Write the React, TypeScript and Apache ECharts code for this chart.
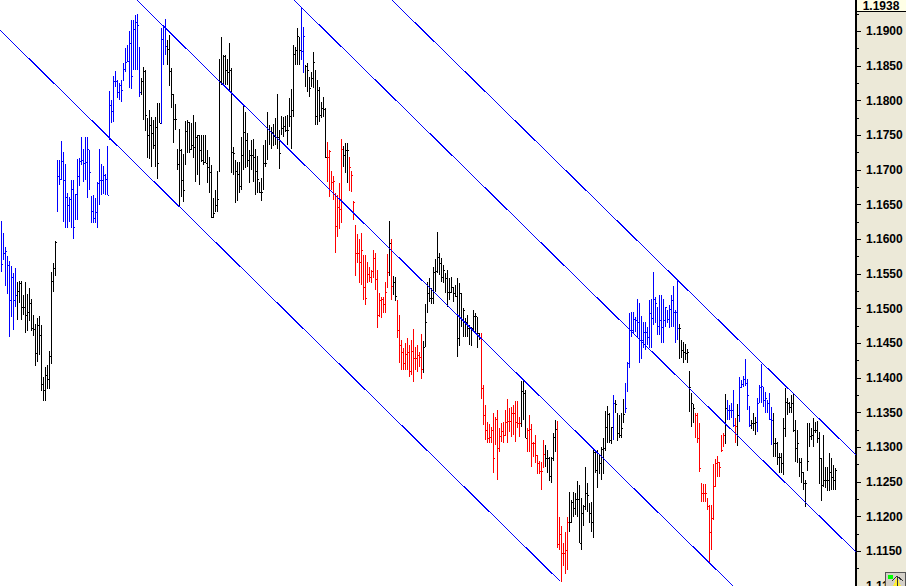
import React, { useEffect, useRef } from "react";
import * as echarts from "echarts";

// Prices in 1/10000 units, one entry per trading bar
const highs = [
11626,11609,11589,11576,11569,11561,11551,11558,11538,11540,
11540,11519,11538,11521,11530,11514,11491,11478,11486,11489,
11476,11401,11416,11419,11439,11553,11566,11597,11714,11714,
11742,11726,11708,11667,11661,11685,11685,11665,11716,11717,
11747,11730,11747,11747,11729,11662,11664,11659,11682,11731,
11708,11706,11694,11734,11814,11801,11835,11843,11830,11825,
11830,11854,11876,11881,11900,11916,11916,11923,11925,11877,
11832,11848,11844,11775,11786,11776,11772,11776,11796,11796,
11905,11909,11918,11887,11895,11847,11809,11795,11731,11759,
11731,11723,11770,11772,11769,11768,11779,11769,11750,11750,
11750,11750,11750,11729,11719,11707,11659,11671,11698,11860,
11892,11866,11866,11860,11883,11847,11733,11714,11711,11711,
11747,11794,11783,11753,11729,11743,11744,11730,11720,11682,
11688,11736,11743,11783,11765,11762,11766,11775,11809,11757,
11778,11776,11778,11779,11804,11817,11881,11877,11905,11892,
11935,11906,11851,11854,11834,11841,11870,11844,11830,11819,
11798,11806,11789,11740,11729,11698,11691,11667,11664,11681,
11744,11734,11739,11739,11719,11698,11656,11620,11607,11600,
11609,11577,11577,11567,11560,11556,11584,11580,11556,11522,
11517,11517,11538,11579,11626,11600,11547,11545,11512,11491,
11455,11443,11450,11457,11447,11455,11470,11445,11447,11437,
11463,11453,11507,11538,11544,11530,11560,11571,11610,11580,
11573,11563,11551,11556,11544,11545,11531,11534,11544,11537,
11522,11501,11486,11491,11476,11473,11498,11494,11488,11465,
11465,11390,11361,11336,11333,11329,11349,11344,11354,11328,
11335,11336,11354,11369,11357,11358,11361,11367,11367,11344,
11395,11395,11382,11328,11346,11333,11307,11318,11289,11281,
11279,11310,11303,11296,11286,11286,11320,11339,11338,11199,
11186,11162,11178,11199,11235,11224,11235,11234,11251,11245,
11227,11217,11271,11248,11220,11221,11299,11293,11296,11289,
11300,11313,11352,11359,11349,11329,11375,11368,11349,11346,
11349,11369,11393,11423,11494,11495,11495,11488,11514,11508,
11489,11481,11481,11473,11512,11514,11553,11517,11502,11519,
11519,11514,11502,11498,11505,11519,11532,11498,11541,11478,
11455,11452,11449,11442,11410,11378,11362,11349,11349,11335,
11248,11247,11247,11227,11217,11217,11276,11283,11287,11279,
11318,11320,11377,11368,11361,11364,11383,11342,11362,11401,
11397,11403,11427,11398,11359,11339,11349,11344,11371,11390,
11420,11387,11380,11368,11378,11358,11349,11313,11307,11292,
11292,11342,11385,11371,11365,11375,11378,11339,11325,11284,
11284,11264,11253,11335,11335,11328,11342,11336,11338,11322,
11284,11318,11271,11271,11292,11284,11274,11270,
];

const lows = [
11553,11570,11532,11521,11459,11488,11469,11502,11483,11508,
11483,11491,11465,11468,11482,11468,11460,11417,11423,11433,
11381,11367,11367,11384,11384,11420,11524,11547,11639,11678,
11685,11625,11616,11616,11625,11616,11600,11628,11628,11677,
11707,11682,11685,11659,11671,11623,11623,11623,11616,11649,
11664,11665,11664,11664,11743,11768,11769,11819,11804,11801,
11798,11828,11841,11856,11818,11817,11844,11844,11844,11805,
11808,11772,11756,11717,11716,11704,11731,11704,11687,11768,
11766,11851,11866,11851,11821,11789,11739,11757,11700,11648,
11661,11654,11707,11724,11724,11729,11717,11682,11693,11678,
11711,11707,11710,11681,11667,11631,11631,11639,11639,11697,
11822,11822,11822,11822,11815,11695,11693,11652,11656,11667,
11671,11700,11703,11704,11681,11700,11682,11664,11667,11667,
11655,11671,11704,11714,11736,11731,11734,11736,11731,11701,
11750,11747,11755,11736,11762,11731,11776,11851,11851,11851,
11858,11840,11819,11812,11805,11819,11818,11765,11765,11769,
11775,11776,11717,11682,11661,11671,11657,11580,11603,11615,
11623,11704,11695,11681,11669,11668,11628,11547,11566,11537,
11534,11512,11505,11537,11538,11537,11544,11527,11472,11488,
11486,11494,11494,11530,11547,11512,11519,11511,11457,11421,
11411,11411,11411,11411,11401,11404,11394,11411,11408,11416,
11398,11407,11445,11494,11509,11507,11507,11524,11551,11548,
11538,11537,11522,11502,11512,11522,11509,11517,11430,11446,
11473,11459,11459,11459,11447,11446,11469,11465,11443,11455,
11369,11332,11310,11306,11306,11306,11263,11303,11253,11293,
11307,11306,11316,11306,11322,11315,11318,11307,11328,11315,
11329,11339,11313,11293,11293,11271,11286,11277,11261,11261,
11238,11270,11271,11263,11251,11248,11280,11293,11155,11152,
11106,11129,11117,11123,11178,11191,11199,11202,11199,11162,
11152,11186,11209,11207,11191,11178,11169,11263,11241,11261,
11253,11261,11294,11306,11306,11305,11310,11349,11309,11313,
11313,11335,11349,11380,11414,11459,11465,11466,11457,11421,
11427,11443,11440,11447,11443,11443,11476,11479,11462,11462,
11450,11450,11473,11479,11472,11473,11473,11450,11455,11427,
11429,11421,11426,11421,11351,11329,11335,11313,11306,11264,
11221,11221,11221,11209,11133,11152,11195,11243,11257,11257,
11293,11300,11305,11339,11339,11342,11329,11306,11302,11336,
11385,11387,11388,11354,11329,11326,11323,11318,11322,11364,
11364,11358,11349,11349,11339,11303,11286,11286,11274,11263,
11263,11260,11315,11346,11349,11349,11322,11279,11277,11257,
11248,11238,11214,11266,11300,11310,11300,11320,11306,11247,
11222,11243,11241,11237,11237,11238,11238,11238,
];

const closes = [
11564,11580,11583,11563,11512,11545,11512,11519,11525,11537,
11502,11502,11491,11495,11508,11472,11470,11436,11476,11462,
11391,11382,11404,11398,11432,11540,11558,11596,11691,11687,
11713,11685,11661,11649,11658,11672,11618,11665,11691,11713,
11714,11710,11711,11731,11697,11641,11631,11639,11681,11685,
11685,11693,11687,11664,11794,11785,11828,11828,11812,11822,
11815,11845,11856,11857,11883,11835,11903,11913,11909,11812,
11828,11843,11779,11750,11765,11753,11736,11762,11710,11768,
11889,11906,11879,11874,11843,11809,11773,11773,11708,11729,
11685,11671,11756,11769,11730,11736,11733,11747,11750,11729,
11714,11711,11710,11704,11697,11632,11638,11649,11658,11828,
11825,11864,11844,11841,11844,11726,11724,11698,11694,11677,
11721,11755,11743,11714,11721,11721,11719,11698,11687,11668,
11668,11710,11710,11759,11756,11755,11749,11747,11747,11724,
11760,11763,11757,11757,11778,11786,11867,11873,11893,11873,
11871,11893,11850,11844,11818,11832,11856,11778,11815,11779,
11789,11788,11719,11719,11727,11682,11684,11619,11646,11644,
11730,11721,11729,11729,11704,11693,11654,11581,11580,11567,
11584,11531,11515,11550,11545,11554,11573,11543,11491,11512,
11514,11507,11524,11553,11595,11532,11538,11518,11469,11447,
11437,11421,11434,11437,11410,11439,11429,11429,11433,11430,
11413,11445,11481,11522,11515,11515,11553,11554,11574,11566,
11545,11556,11544,11524,11524,11531,11522,11518,11457,11522,
11483,11498,11481,11472,11472,11472,11489,11489,11465,11459,
11385,11346,11325,11313,11315,11325,11284,11341,11299,11316,
11323,11318,11336,11338,11338,11349,11349,11336,11335,11335,
11381,11378,11313,11325,11326,11306,11306,11289,11277,11266,
11266,11290,11284,11284,11258,11284,11315,11326,11160,11175,
11147,11147,11152,11192,11192,11221,11212,11225,11225,11162,
11205,11215,11234,11231,11205,11192,11293,11267,11292,11277,
11297,11299,11329,11348,11310,11329,11364,11362,11320,11318,
11328,11348,11357,11421,11469,11469,11485,11483,11481,11455,
11455,11466,11466,11459,11494,11486,11514,11508,11475,11483,
11473,11483,11502,11485,11499,11512,11495,11495,11472,11472,
11440,11437,11436,11437,11387,11364,11357,11346,11313,11270,
11234,11234,11234,11215,11178,11198,11244,11277,11279,11271,
11296,11318,11357,11354,11354,11354,11332,11331,11346,11387,
11391,11398,11393,11375,11332,11335,11335,11336,11364,11387,
11388,11368,11371,11364,11341,11339,11306,11306,11286,11286,
11277,11328,11365,11364,11358,11364,11325,11299,11306,11279,
11264,11248,11248,11280,11316,11318,11325,11325,11313,11284,
11245,11253,11253,11253,11264,11257,11253,11267,
];

// Trend state for consecutive runs of bars: [state, run length]
const trendRuns: [string, number][] = [
  ["up", 8], ["flat", 20], ["up", 42], ["flat", 10], ["up", 3], ["flat", 67],
  ["up", 2], ["flat", 11], ["down", 8], ["flat", 3], ["down", 20], ["flat", 1],
  ["down", 1], ["flat", 2], ["down", 13], ["flat", 29], ["down", 20], ["flat", 3],
  ["down", 9], ["flat", 6], ["down", 6], ["flat", 22], ["up", 1], ["flat", 5],
  ["up", 27], ["flat", 8], ["down", 15], ["flat", 1], ["up", 4], ["down", 1],
  ["flat", 1], ["up", 6], ["flat", 3], ["up", 8], ["flat", 32],
];

// Parallel channel lines: [bar index, price] at both ends
const channelLines: [number, number][][] = [
  [[-0.5, 1.19017], [279.5, 1.1107]],
  [[68, 1.1945], [366, 1.11]],
  [[146.5, 1.1945], [427.5, 1.1149]],
  [[195.5, 1.1945], [427.5, 1.1289]],
];

const lastPriceLabel = "1.1938";
const priceMin = 1.11;
const priceMax = 1.19452;
const priceStep = 0.005;
const barSlots = 428;

const trendColors: Record<string, string> = { up: "#0000ff", flat: "#000000", down: "#ff0000" };
const channelColor = "#0000ff";
const panelColor = "#ece9d8";
const axisFont = '"Liberation Sans", Arial, sans-serif';

const barStates: string[] = [];
trendRuns.forEach(([state, n]) => {
  for (let k = 0; k < n; k++) barStates.push(state);
});
const barData = highs.map((h, i) => [i, h / 10000, lows[i] / 10000, closes[i] / 10000, barStates[i]]);

function renderBar(params: any, api: any) {
  const i = api.value(0);
  const hi = api.coord([i, api.value(1)]);
  const lo = api.coord([i, api.value(2)]);
  const cl = api.coord([i, api.value(3)]);
  const fill = trendColors[barData[params.dataIndex][4] as string];
  const x = Math.floor(hi[0]);
  const top = Math.round(hi[1]);
  const bottom = Math.round(lo[1]);
  return {
    type: "group",
    children: [
      { type: "rect", shape: { x, y: top, width: 1, height: Math.max(bottom - top, 1) }, style: { fill } },
      { type: "rect", shape: { x: x + 1, y: Math.round(cl[1]), width: 1, height: 1 }, style: { fill } },
    ],
  };
}

export default function App() {
  const ref = useRef<HTMLDivElement>(null);
  useEffect(() => {
    const chart = echarts.init(ref.current!, undefined, { renderer: "svg" });
    chart.setOption({
      animation: false,
      backgroundColor: panelColor,
      grid: { show: true, left: 0, top: 0, width: 856, height: 586, borderWidth: 0, backgroundColor: "#ffffff", containLabel: false, outerBoundsMode: "none" },
      xAxis: { type: "value", min: -0.5, max: barSlots - 0.5, show: false },
      yAxis: {
        type: "value",
        position: "right",
        min: priceMin,
        max: priceMax,
        interval: priceStep,
        splitLine: { show: false },
        axisLine: { show: true, onZero: false, lineStyle: { color: "#000", width: 2, type: [1, 2] } },
        axisTick: { show: true, length: 5, lineStyle: { color: "#000", width: 1 } },
        minorTick: { show: true, splitNumber: 2, length: 3, lineStyle: { color: "#000", width: 1 } },
        axisLabel: {
          margin: 10,
          color: "#000",
          fontFamily: axisFont,
          fontWeight: "bold",
          fontSize: 12,
          showMinLabel: true,
          showMaxLabel: false,
          formatter: (v: number) => v.toFixed(4),
        },
      },
      series: [
        ...channelLines.map((pts) => ({
          type: "line",
          data: pts,
          symbol: "none",
          clip: true,
          z: 3,
          lineStyle: { color: channelColor, width: 1 },
        })),
        {
          type: "custom",
          data: barData,
          renderItem: renderBar,
          clip: true,
          z: 2,
          encode: { x: 0, y: [1, 2, 3] },
        },
      ],
      graphic: [
        { type: "rect", z: 10, shape: { x: 856, y: 0, width: 50, height: 11 }, style: { fill: "#ffffe6" } },
        { type: "line", z: 10, shape: { x1: 856, y1: 11.5, x2: 906, y2: 11.5 }, style: { stroke: "#000", lineWidth: 1 } },
        { type: "line", z: 10, shape: { x1: 856.5, y1: 0, x2: 856.5, y2: 11 }, style: { stroke: "#000", lineWidth: 1 } },
        {
          type: "text",
          z: 11,
          x: 881,
          y: 6,
          style: { text: lastPriceLabel, fill: "#000", font: `bold 12px ${axisFont}`, lineHeight: 12, textAlign: "center", textVerticalAlign: "middle" },
        },
        { type: "rect", z: 10, shape: { x: 885.5, y: 572.5, width: 20, height: 14 }, style: { fill: "#d4d0c8", stroke: "#555", lineWidth: 1 } },
        { type: "rect", z: 11, shape: { x: 888, y: 575, width: 5, height: 4 }, style: { fill: "#00ff00" } },
        { type: "polygon", z: 11, shape: { points: [[893, 586], [897, 577], [901, 586]] }, style: { fill: "#ffee33" } },
        { type: "polyline", z: 12, shape: { points: [[892, 581], [897, 576], [903, 581]] }, style: { stroke: "#333", fill: "none", lineWidth: 1 } },
        { type: "line", z: 12, shape: { x1: 897, y1: 576, x2: 897, y2: 586 }, style: { stroke: "#333", lineWidth: 1 } },
      ],
    });
    return () => chart.dispose();
  }, []);
  return (
    <>
      <style>{"html,body{margin:0;padding:0;background:#fff}#chart svg path{shape-rendering:crispEdges}"}</style>
      <div id="chart" ref={ref} style={{ position: "fixed", left: 0, top: 0, width: 906, height: 586 }} />
    </>
  );
}
